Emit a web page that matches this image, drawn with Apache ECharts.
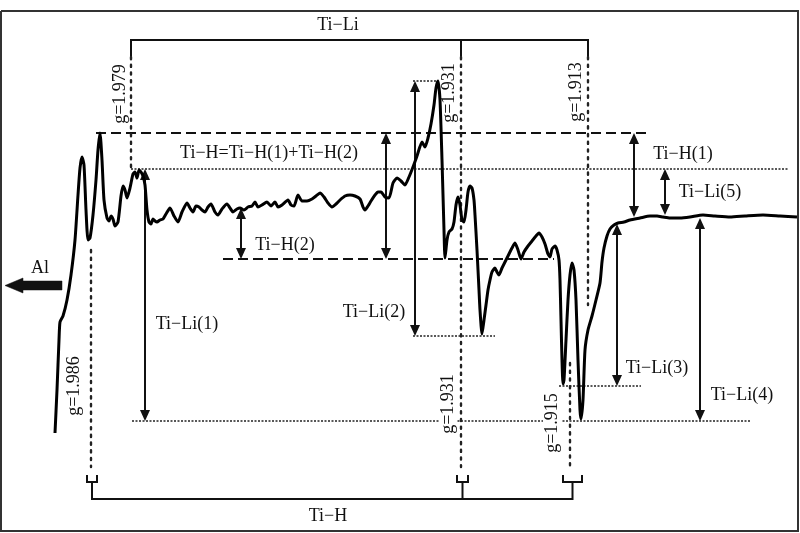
<!DOCTYPE html>
<html><head><meta charset="utf-8">
<script src="https://cdn.jsdelivr.net/npm/echarts@6/dist/echarts.min.js"></script>
<style>html,body{margin:0;padding:0;background:#fff}#c{width:800px;height:533px}</style>
</head><body><div id="c"></div>
<script>
// ESR spectrum (field in arbitrary units, signal intensity in arbitrary units)
const field = [55,57,59,60,63,67,71,75,78,80,82,84,86,88,90,93,96,98,100,102,104,107,109,111,113,115,118,121,123,125,127,130,133,135,137,139,141,143,145,147,149,151,153,155,157,160,163,166,170,174,178,182,187,190,193,196,199,202,205,208,211,215,218,222,227,230,233,237,240,244,248,252,255,258,262,267,271,275,278,282,288,291,294,298,302,307,312,316,320,324,328,332,336,340,345,350,355,360,363,365,368,371,375,378,381,385,389,393,397,401,405,409,413,417,422,425,428,431,434,436,438,440,442,444,445,447,449,452,454,456,458,460,462,464,466,468,470,472,474,475,477,479,480,482,484,486,488,490,492,495,497,499,502,505,508,512,515,518,521,524,528,532,536,539,542,545,548,550,552,555,557,559,560,561,562,563,564,566,568,570,572,574,576,578,580,581,583,585,588,592,596,600,602,604,607,610,614,618,624,630,640,650,657,663,670,680,690,703,715,730,745,763,780,797];
const signal = [-12,31,81,99,105,121,146,181,226,253,264,256,211,181,183,206,241,271,288,261,221,203,200,205,202,195,199,225,235,231,223,233,247,249,243,251,249,245,236,211,199,197,202,200,199,201,202,207,213,205,199,209,218,213,209,215,214,211,209,214,217,209,206,212,217,213,209,212,213,211,214,215,219,214,216,219,215,219,214,216,221,216,215,226,220,220,222,225,228,224,218,214,217,221,225,226,225,222,214,211,215,220,226,229,229,224,223,238,243,240,236,244,254,265,279,274,283,297,316,333,340,321,261,191,163,181,189,192,199,216,224,216,201,199,211,229,235,233,221,206,171,131,111,87,101,116,131,141,149,153,149,146,153,159,165,173,178,171,162,169,175,180,185,188,184,177,167,164,172,175,171,161,141,101,61,37,41,81,121,146,158,151,121,61,11,2,21,71,91,105,121,138,159,173,185,192,196,198,199,201,203,205,205,204,203,203,204,206,205,204,205,206,205,204];

// g-value marker labels and level labels
const gLabels = ['g=1.979','g=1.931','g=1.913','g=1.986','g=1.931','g=1.915'];
const bandLabels = ['Ti−Li','Ti−H'];
const levelLabels = ['Ti−H=Ti−H(1)+Ti−H(2)','Ti−H(2)','Ti−H(1)','Ti−Li(5)','Ti−Li(1)','Ti−Li(2)','Ti−Li(3)','Ti−Li(4)','Al'];

const INK = '#111';
const FONT = '18px "Liberation Serif","DejaVu Serif",serif';

function renderItem(params, api) {
  const c = p => api.coord(p);
  const ch = [];
  const poly = (pts, st) => ch.push({type:'polyline', shape:{points: pts.map(c)}, style:Object.assign({fill:null, stroke:INK, lineWidth:2}, st||{})});
  const dashed = {lineDash:[10,5], lineWidth:2};
  const fine = {lineDash:[2,1.5], lineWidth:1.6, stroke:'#222'};
  const coarse = {lineDash:[2.2,5.5], lineWidth:2.4, lineCap:'round', stroke:'#222'};

  // frame
  poly([[1,410],[798,410],[798,-110],[1,-110],[1,410]], {lineWidth:2, stroke:'#333'});

  // horizontal reference levels
  poly([[96,288],[647,288]], dashed);
  poly([[223,162],[554,162]], dashed);
  poly([[131,252],[788,252]], fine);
  poly([[132,0],[751,0]], fine);
  poly([[413,85],[495,85]], fine);
  poly([[559,35],[641,35]], fine);
  poly([[413,340],[437,340]], fine);

  // Ti-Li bracket
  poly([[131,364],[131,381],[588,381],[588,364]]);
  poly([[461,381],[461,364]]);
  // g-marker dotted verticals
  poly([[131,364],[131,252]], coarse);
  poly([[461,364],[461,-46]], coarse);
  poly([[588,364],[588,116]], coarse);
  poly([[91,171],[91,-46]], coarse);
  poly([[570,58],[570,-46]], coarse);

  // Ti-H bracket
  poly([[87,-54],[87,-61],[97,-61],[97,-54]]);
  poly([[457,-54],[457,-61],[468,-61],[468,-54]]);
  poly([[563,-54],[563,-61],[582,-61],[582,-54]]);
  poly([[92,-61],[92,-78],[572.5,-78],[572.5,-61]]);
  poly([[462.5,-61],[462.5,-78]]);

  // double arrows
  const arrows = [[145,252,0],[241,213,162],[386,288,162],[415,340,85],[634,288,204],[665,252,206],[617,197,35],[700,203,0]];
  arrows.forEach(a => {
    const p1 = c([a[0],a[1]]), p2 = c([a[0],a[2]]);
    const hl = 11, hw = 5;
    ch.push({type:'line', shape:{x1:p1[0], y1:p1[1]+hl-1, x2:p2[0], y2:p2[1]-hl+1}, style:{stroke:INK, lineWidth:2}});
    ch.push({type:'polygon', shape:{points:[[p1[0],p1[1]],[p1[0]-hw,p1[1]+hl],[p1[0]+hw,p1[1]+hl]]}, style:{fill:INK}});
    ch.push({type:'polygon', shape:{points:[[p2[0],p2[1]],[p2[0]-hw,p2[1]-hl],[p2[0]+hw,p2[1]-hl]]}, style:{fill:INK}});
  });

  // Al arrow
  poly([[62,140],[23,140],[23,143],[5,135.5],[23,128],[23,131],[62,131],[62,140]], {fill:INK, lineWidth:0.5});

  const txt = (s, p, rot) => {
    const q = c(p);
    ch.push({type:'text', x:q[0], y:q[1], rotation: rot ? Math.PI/2 : 0,
      style:{text:s, font:FONT, fill:INK, align:'center', verticalAlign:'middle', backgroundColor:'#fff', padding:[0,1]}});
  };
  const gPos = [[120,327],[449,328],[576,329],[74,35],[448,17],[552,-2]];
  gLabels.forEach((s,i) => txt(s, gPos[i], true));
  const bPos = [[338,396],[328,-95]];
  bandLabels.forEach((s,i) => txt(s, bPos[i], false));
  const lPos = [[269,268],[285,176],[683,267],[710,229],[187,97],[374,109],[657,53],[742,26],[40,153]];
  levelLabels.forEach((s,i) => txt(s, lPos[i], false));

  return {type:'group', children: ch};
}

const chart = echarts.init(document.getElementById('c'), null, {renderer:'canvas'});
chart.setOption({
  animation:false,
  backgroundColor:'#fff',
  grid:{left:0,right:0,top:0,bottom:0},
  xAxis:{type:'value', min:0, max:800, show:false},
  yAxis:{type:'value', min:-112, max:421, show:false},
  series:[
    {type:'custom', renderItem, data:[[0,0]], z:1, silent:true, clip:false},
    {type:'line', data: field.map((f,i)=>[f, signal[i]]), showSymbol:false, smooth:0.2,
     lineStyle:{color:'#000', width:3}, z:3, silent:true}
  ]
});
</script></body></html>
